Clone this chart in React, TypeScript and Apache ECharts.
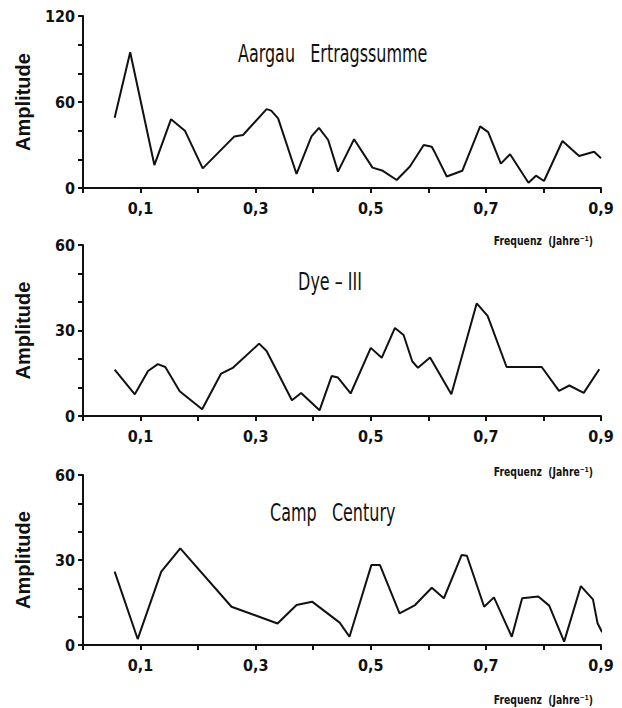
import React, { useEffect, useRef } from "react";
import * as echarts from "echarts";

// Aargau Ertragssumme
const aargauFreq = [0.055, 0.082, 0.124, 0.153, 0.177, 0.208, 0.263, 0.278, 0.319, 0.327, 0.339, 0.371, 0.397, 0.41, 0.426, 0.443, 0.471, 0.503, 0.521, 0.545, 0.568, 0.592, 0.606, 0.611, 0.632, 0.659, 0.69, 0.704, 0.726, 0.742, 0.774, 0.787, 0.801, 0.833, 0.862, 0.888, 0.9];
const aargauAmp = [49, 94.7, 16, 48, 40, 13.7, 36, 37, 55, 54, 48.6, 9.8, 36, 42, 33.5, 11.4, 34, 14.2, 12, 5.6, 15, 30, 28.8, 25, 8, 12, 43, 39, 17, 23.5, 3.7, 8.6, 4.9, 32.8, 22.3, 25.3, 20.7];

// Dye-III
const dyeFreq = [0.055, 0.09, 0.113, 0.13, 0.143, 0.168, 0.207, 0.24, 0.261, 0.306, 0.319, 0.363, 0.379, 0.411, 0.432, 0.443, 0.465, 0.5, 0.519, 0.542, 0.557, 0.572, 0.582, 0.603, 0.64, 0.684, 0.703, 0.736, 0.797, 0.827, 0.845, 0.87, 0.897];
const dyeAmp = [16.3, 7.6, 15.8, 18.2, 17.2, 8.7, 2.4, 14.9, 17, 25.4, 22.8, 5.5, 8.1, 2, 14, 13.5, 7.9, 23.9, 20.4, 30.9, 28.4, 19.2, 16.9, 20.5, 7.6, 39.5, 35.1, 17.2, 17.2, 8.8, 10.7, 8.1, 16.4];

// Camp Century
const campFreq = [0.055, 0.095, 0.136, 0.169, 0.258, 0.338, 0.371, 0.398, 0.446, 0.463, 0.501, 0.516, 0.55, 0.577, 0.606, 0.627, 0.658, 0.667, 0.697, 0.714, 0.745, 0.763, 0.791, 0.81, 0.836, 0.865, 0.886, 0.894, 0.902];
const campAmp = [25.9, 2.1, 25.9, 34.1, 13.5, 7.6, 14.1, 15.3, 7.9, 2.9, 28.2, 28.2, 11.2, 14.1, 20.2, 16.5, 31.8, 31.5, 13.5, 16.8, 2.9, 16.5, 17.1, 13.9, 1.2, 20.8, 16.1, 7.7, 4.5];

const panelTitles = ["Aargau   Ertragssumme", "Dye – III", "Camp   Century"];
const yMaxes = [120, 60, 60];
const yTickSteps = [20, 10, 10];
const yLabelSteps = [60, 30, 30];
const xTickLabels = ["0,1", "0,3", "0,5", "0,7", "0,9"];
const xAxisName = "Frequenz  (Jahre⁻¹)";

const NARROW = "'DejaVu Sans Condensed', 'Liberation Sans', sans-serif";
const INK = "#111";

export default function App() {
  const ref = useRef<HTMLDivElement>(null);
  useEffect(() => {
    if (!ref.current) return;
    const chart = echarts.init(ref.current, undefined, { renderer: "svg" });
    const freqs = [aargauFreq, dyeFreq, campFreq];
    const amps = [aargauAmp, dyeAmp, campAmp];
    const grids = [
      { left: 83, width: 518, top: 16, height: 172 },
      { left: 83, width: 518, top: 245, height: 171 },
      { left: 83, width: 518, top: 475, height: 170 },
    ];
    const xAxes = grids.map((_, i) => ({
      type: "value",
      gridIndex: i,
      min: 0,
      max: 0.9,
      interval: 0.1,
      axisLine: { show: true, onZero: false, lineStyle: { color: INK, width: 2 } },
      axisTick: { show: true, length: 5, lineStyle: { color: INK, width: 2 } },
      splitLine: { show: false },
      axisLabel: {
        margin: 12,
        fontFamily: NARROW,
        fontWeight: "bold",
        fontSize: 16,
        color: INK,
        showMinLabel: true,
        showMaxLabel: true,
        formatter: (v: number) => {
          const k = Math.round(v * 10);
          if (k % 2 === 1) return xTickLabels[(k - 1) / 2];
          return "";
        },
      },
    }));
    const yAxes = grids.map((_, i) => ({
      type: "value",
      gridIndex: i,
      min: 0,
      max: yMaxes[i],
      interval: yTickSteps[i],
      name: "Amplitude",
      nameLocation: "middle",
      nameRotate: 90,
      nameGap: 50,
      nameTextStyle: { fontFamily: "'Liberation Sans', Arial, sans-serif", fontWeight: "bold", fontSize: 20, color: INK },
      axisLine: { show: true, lineStyle: { color: INK, width: 2 } },
      axisTick: { show: true, length: 5, lineStyle: { color: INK, width: 2 } },
      splitLine: { show: false },
      axisLabel: {
        margin: 8,
        fontFamily: NARROW,
        fontWeight: "bold",
        fontSize: 16,
        color: INK,
        formatter: (v: number) => (Math.round(v) % yLabelSteps[i] === 0 ? String(Math.round(v)) : ""),
      },
    }));
    const series = freqs.map((f, i) => ({
      type: "line",
      xAxisIndex: i,
      yAxisIndex: i,
      data: f.map((x, j) => [x, amps[i][j]]),
      symbol: "none",
      lineStyle: { color: INK, width: 2 },
    }));
    const titlePos = [
      { x: 238, y: 53, align: "left" },
      { x: 330, y: 281, align: "center" },
      { x: 270, y: 512, align: "left" },
    ];
    const freqY = [241, 472, 700];
    const graphics: any[] = [];
    panelTitles.forEach((t, i) => {
      graphics.push({
        type: "text",
        x: titlePos[i].x,
        y: titlePos[i].y,
        scaleX: 0.74,
        style: {
          text: t,
          fontFamily: NARROW,
          fontSize: 24,
          fill: INK,
          textAlign: titlePos[i].align,
          textVerticalAlign: "middle",
        },
      });
      graphics.push({
        type: "text",
        x: 593,
        y: freqY[i],
        scaleX: 0.86,
        style: {
          text: xAxisName,
          fontFamily: NARROW,
          fontWeight: "bold",
          fontSize: 12,
          fill: INK,
          textAlign: "right",
          textVerticalAlign: "middle",
        },
      });
    });
    chart.setOption({
      animation: false,
      backgroundColor: "#fff",
      grid: grids,
      xAxis: xAxes,
      yAxis: yAxes,
      series,
      graphic: graphics,
    });
    return () => chart.dispose();
  }, []);
  return <div ref={ref} style={{ position: "fixed", left: 0, top: 0, width: 622, height: 708 }} />;
}
